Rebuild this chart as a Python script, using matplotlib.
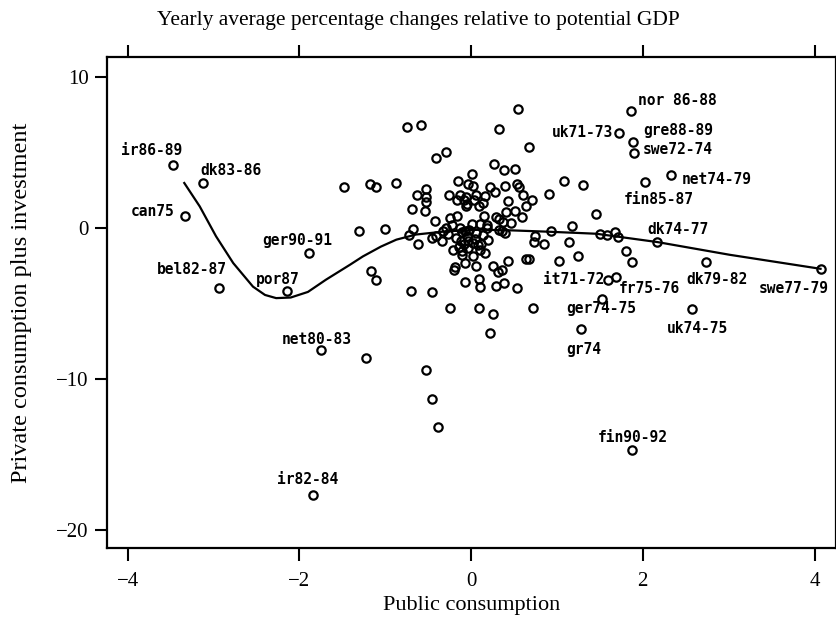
import numpy as np
import matplotlib.pyplot as plt

# public consumption (x) vs private consumption plus investment (y)
pub = [-3.47, -3.12, -3.33, -1.89, -2.94, -2.14, -1.48,
       0.55, -0.75, -0.58, 0.33, 0.67, -0.41, -0.29,
       -1.18, -1.11, -0.88,
       0.27, 0.38, 0.51, 0.01, -0.15, -0.03, 0.02, 0.22, 0.39, 0.54, 0.56, 1.08, 0.91,
       -0.52, -0.63, -0.53, -0.52, -0.69, -0.54,
       -0.26, -0.13, -0.06, 0.06, 0.16, 0.28,
       -0.16, -0.05, -0.06, 0.09, 0.43, 0.60, 0.71, 0.64,
       -0.42, -0.25, -0.16, 0.15, 0.29, 0.41, 0.51, 0.59, 0.46, 0.37, 0.32,
       -0.29, -0.22, 0.01, 0.10, 0.19,
       -1.31, -1.00, -0.68, -0.72, -0.62, -0.45, -0.34, -0.27,
       0.06, 0.14, 0.05, 0.20, 0.36, 0.40,
       -0.21, -0.10, 0.02, 0.08, 0.16, 0.11,
       0.43, -0.07, 0.06, 0.25, 0.36, 0.31, -0.19, -0.20,
       0.64, 0.68, 0.74, 0.73, 0.85, 0.93, 1.02, 1.14, 1.17, 1.24,
       -1.17, -1.11, -0.70, -0.46, -0.07, 0.09, 0.10, 0.29, 0.38, 0.53,
       -0.25, 0.09, 0.72,
       -0.08, 0.03, 0.14, 0.18, 0.33, -0.33, -0.41, 0.02, 0.10, 0.25, 0.22,
       1.86, 1.72, 1.89, 1.90, 2.33, 2.03, 1.30, 1.45, 1.50, 1.58, 1.68, 1.71,
       2.17, 1.80, 1.87, 2.74, 4.07, 1.60, 1.69, 1.53, 2.57,
       1.28, 1.88,
       -1.75, -1.22, -0.53, -0.45, -0.38, -1.84,
       -0.10, -0.05, -0.12, -0.08, -0.14, -0.04, -0.11, -0.02, -0.17, -0.07, -0.13, -0.03]
priv = [4.15, 2.96, 0.75, -1.68, -3.97, -4.17, 2.72,
        7.86, 6.64, 6.78, 6.53, 5.34, 4.61, 5.01,
        2.89, 2.72, 2.96,
        4.24, 3.82, 3.86, 3.58, 3.07, 2.89, 2.78, 2.67, 2.78, 2.89, 2.69, 3.11, 2.21,
        2.56, 2.17, 2.03, 1.68, 1.26, 1.08,
        2.14, 2.19, 2.03, 2.14, 2.10, 2.36,
        1.81, 1.57, 1.41, 1.46, 1.79, 2.19, 1.81, 1.46,
        0.44, 0.66, 0.79, 0.79, 0.68, 1.04, 1.08, 0.73, 0.31, 0.35, 0.58,
        0.00, 0.18, 0.26, 0.26, 0.15,
        -0.22, -0.09, -0.11, -0.46, -1.10, -0.68, -0.91, -0.40,
        -0.35, -0.46, -0.73, -0.82, -0.24, -0.35,
        -1.46, -1.57, -1.85, -1.17, -1.68, -1.08,
        -2.19, -2.36, -2.52, -2.56, -2.83, -2.96, -2.60, -2.83,
        -2.05, -2.05, -0.57, -0.95, -1.06, -0.24, -2.19, -0.97, 0.09, -1.85,
        -2.85, -3.44, -4.22, -4.24, -3.62, -3.38, -3.95, -3.89, -3.66, -3.99,
        -5.32, -5.32, -5.32,
        1.85, 1.81, 1.63, -0.02, -0.15, -0.24, -0.57, -1.01, -1.46, -5.72, -6.98,
        7.70, 6.27, 5.70, 4.92, 3.51, 3.00, 2.80, 0.93, -0.42, -0.46, -0.31, -0.62,
        -0.95, -1.57, -2.25, -2.30, -2.72, -3.44, -3.27, -4.72, -5.39,
        -6.71, -14.70,
        -8.12, -8.61, -9.45, -11.35, -13.20, -17.66,
        -0.30, -0.55, -0.85, -1.05, -1.25, -1.35, -1.80, -0.12, -0.65, -0.20, -0.05, -0.90]

# smoothed fit
fit_x = [-3.34, -3.16, -2.97, -2.77, -2.54, -2.40, -2.27, -2.10, -1.90, -1.69, -1.41, -1.26,
         -1.05, -0.87, -0.64, -0.29, 0.10, 0.49, 0.88, 1.26, 1.46, 2.17, 3.01, 4.07]
fit_y = [2.96, 1.41, -0.57, -2.34, -3.90, -4.45, -4.66, -4.62, -4.25, -3.44, -2.45, -1.90,
         -1.25, -0.79, -0.45, -0.24, -0.13, -0.18, -0.26, -0.35, -0.40, -0.95, -1.79, -2.72]

# labelled observations: text, x, y (label centre)
lab_text = ['ir86-89', 'dk83-86', 'can75', 'ger90-91', 'bel82-87', 'por87',
            'net80-83', 'ir82-84', 'uk71-73', 'nor 86-88', 'gre88-89', 'swe72-74',
            'net74-79', 'fin85-87', 'dk74-77', 'it71-72', 'fr75-76', 'dk79-82',
            'swe77-79', 'ger74-75', 'uk74-75', 'gr74', 'fin90-92']
lab_x = [-3.72, -2.80, -3.71, -2.03, -3.25, -2.25,
         -1.80, -1.90, 1.30, 2.40, 2.41, 2.41,
         2.86, 2.19, 2.41, 1.20, 2.08, 2.86,
         3.76, 1.52, 2.64, 1.31, 1.88]
lab_y = [5.10, 3.77, 1.06, -0.86, -2.78, -3.44,
         -7.42, -16.66, 6.32, 8.41, 6.42, 5.17,
         3.18, 1.85, -0.13, -3.44, -4.04, -3.44,
         -4.04, -5.36, -6.69, -8.08, -13.90]

serif = ['Liberation Serif', 'DejaVu Serif']

fig = plt.figure(figsize=(8.37, 6.27), dpi=100)
ax = fig.add_axes([107 / 837, 1 - 548 / 627, (836 - 107) / 837, (548 - 57) / 627])

ax.plot(pub, priv, 'o', ms=6, mfc='none', mec='black', mew=1.6)
ax.plot(fit_x, fit_y, color='black', lw=1.6)

for t, x, y in zip(lab_text, lab_x, lab_y):
    ax.text(x, y, t, ha='center', va='center', fontsize=10.5,
            family='DejaVu Sans Mono', fontweight='bold')

ax.set_xlim(-4.24, 4.25)
ax.set_ylim(-21.2, 11.3)
ax.set_xticks([-4, -2, 0, 2, 4])
ax.set_yticks([10, 0, -10, -20])
ax.tick_params(axis='x', which='both', direction='out', length=9, width=1.5,
               top=True, labeltop=False, labelsize=15, pad=8)
ax.tick_params(axis='y', direction='out', length=9, width=1.5, labelsize=15, pad=4)
for lab in ax.get_xticklabels() + ax.get_yticklabels():
    lab.set_family(serif)
for s in ax.spines.values():
    s.set_linewidth(1.6)

ax.set_xlabel('Public consumption', fontsize=16, family=serif)
ax.set_ylabel('Private consumption plus investment', fontsize=17.5, family=serif)
ax.yaxis.set_label_coords(-0.103, 0.5)
ax.xaxis.set_label_coords(0.5, -0.097)
fig.text(0.5, 0.968, 'Yearly average percentage changes relative to potential GDP',
         ha='center', va='center', fontsize=15.5, family=serif)

fig.savefig('out.png', dpi=100)
